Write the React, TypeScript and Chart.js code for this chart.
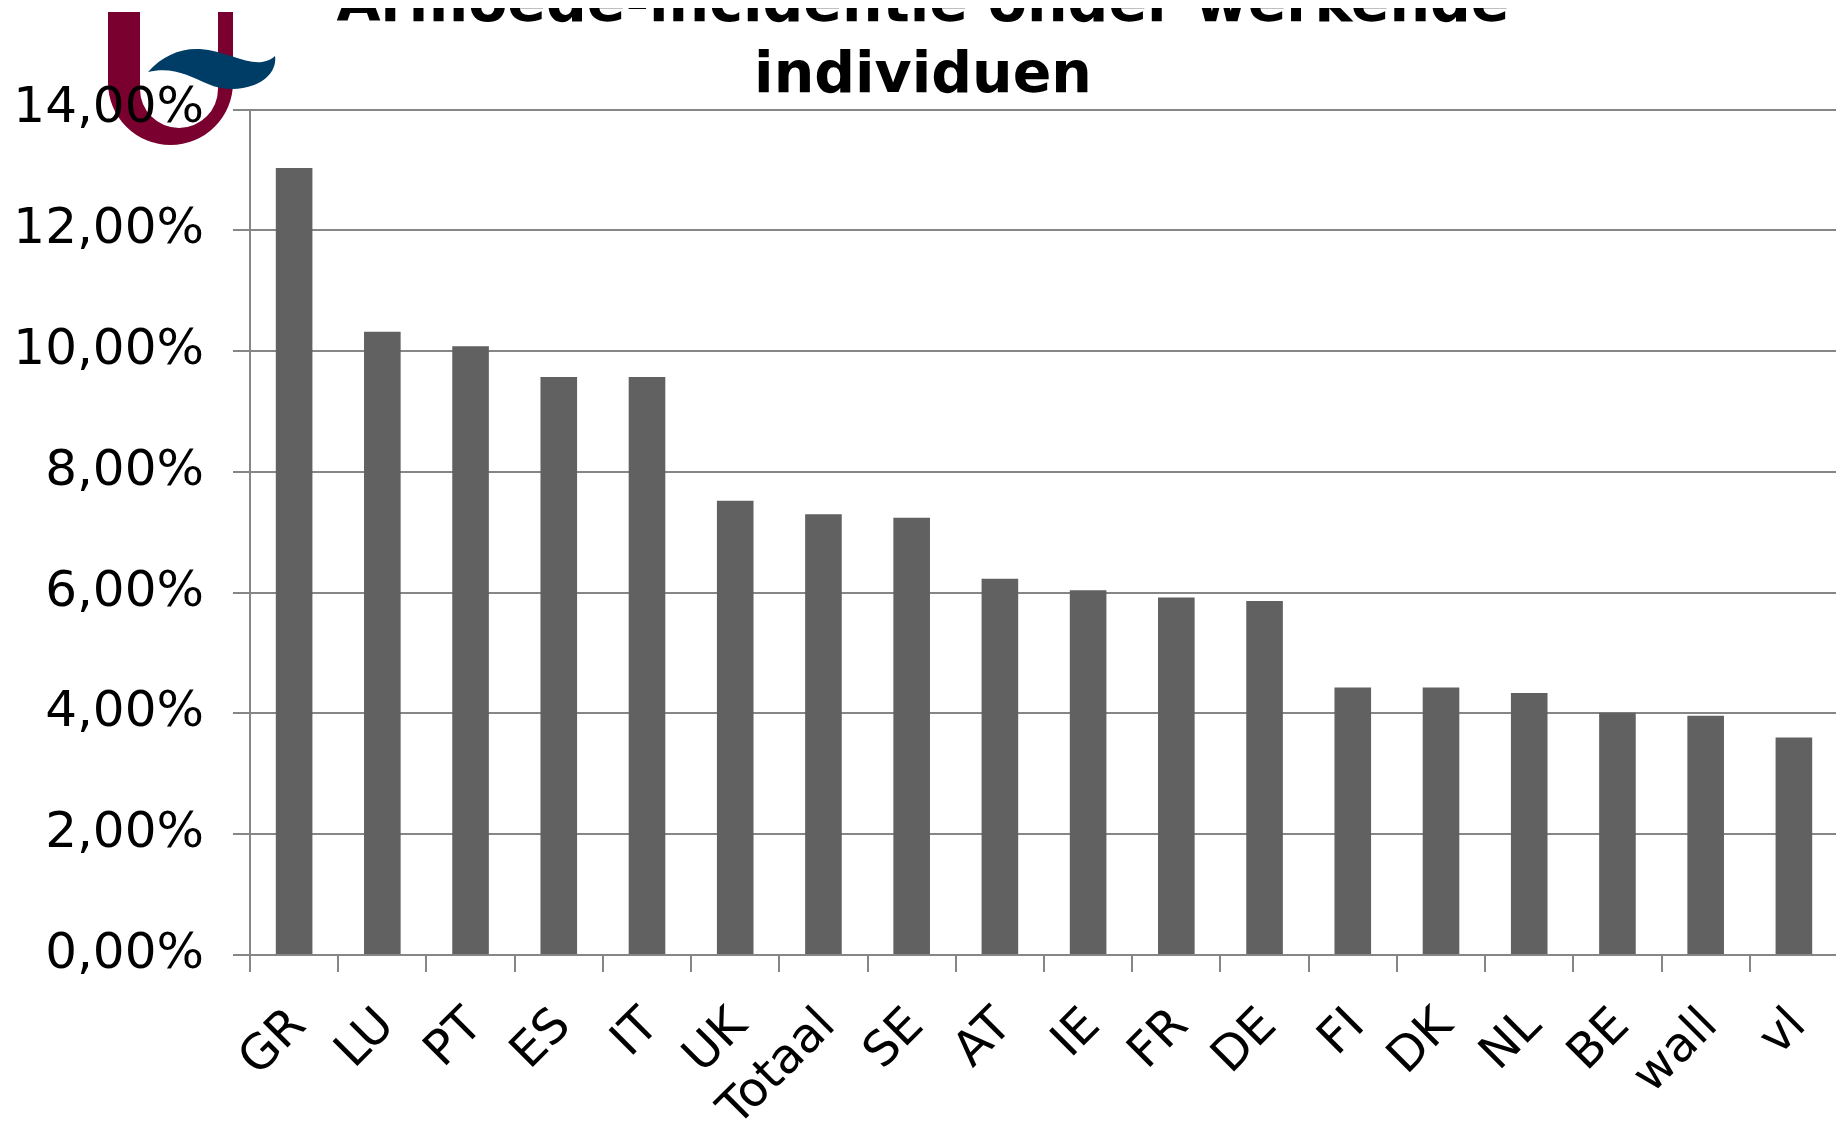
import React, { useEffect, useRef } from "react";
import { Chart, registerables } from "chart.js";

Chart.register(...registerables);

const categories = ["GR", "LU", "PT", "ES", "IT", "UK", "Totaal", "SE", "AT", "IE", "FR", "DE", "FI", "DK", "NL", "BE", "wall", "vl"];
const values = [13.03, 10.32, 10.08, 9.57, 9.57, 7.52, 7.3, 7.24, 6.23, 6.04, 5.92, 5.86, 4.43, 4.43, 4.34, 4.01, 3.96, 3.6];
const yTickValues = [0, 2, 4, 6, 8, 10, 12, 14];
const titleLines = ["Armoede-incidentie onder werkende", "individuen"];

const GRID = "#868686";
const BAR = "#616161";
const FONT = "'DejaVu Sans', Verdana, sans-serif";

// Decorative logo (U with wave), drawn behind everything
const logoPlugin = {
  id: "logo",
  beforeDraw(chart: any) {
    const ctx = chart.ctx;
    ctx.save();
    ctx.translate(-8, -8); // page coords -> canvas coords
    // maroon U
    ctx.fillStyle = "#7a0030";
    ctx.beginPath();
    ctx.moveTo(108, 12);
    ctx.lineTo(108, 82.5);
    ctx.ellipse(170.5, 82.5, 62.5, 62.5, 0, Math.PI, 0, true);
    ctx.lineTo(233, 12);
    ctx.lineTo(218, 12);
    ctx.lineTo(218, 89);
    ctx.ellipse(179, 89, 39, 39, 0, 0, Math.PI, false);
    ctx.lineTo(140, 12);
    ctx.closePath();
    ctx.fill();
    // blue wave
    ctx.fillStyle = "#003d66";
    ctx.beginPath();
    ctx.moveTo(148, 72);
    ctx.bezierCurveTo(162, 56, 180, 48, 200, 49);
    ctx.bezierCurveTo(225, 51, 245, 64, 262, 62);
    ctx.bezierCurveTo(268, 61, 272, 59, 275, 56);
    ctx.bezierCurveTo(277, 68, 268, 80, 254, 85);
    ctx.bezierCurveTo(238, 91, 222, 90, 208, 84);
    ctx.bezierCurveTo(190, 76, 172, 66, 148, 72);
    ctx.closePath();
    ctx.fill();
    ctx.restore();
  },
};

export default function App() {
  const ref = useRef<HTMLCanvasElement | null>(null);

  useEffect(() => {
    if (!ref.current) return;
    const chart = new Chart(ref.current, {
      type: "bar",
      data: {
        labels: categories,
        datasets: [
          {
            data: values,
            backgroundColor: BAR,
            borderWidth: 0,
            barPercentage: 0.415,
            categoryPercentage: 1.0,
          },
        ],
      },
      options: {
        responsive: false,
        animation: false,
        devicePixelRatio: 1,
        layout: { padding: { left: 0, right: 6, top: 0, bottom: 0 } },
        plugins: {
          legend: { display: false },
          tooltip: { enabled: false },
          title: {
            display: true,
            text: titleLines,
            color: "#000",
            font: { family: FONT, weight: "bold", size: 57, lineHeight: "71px" },
            padding: { top: -37.5, bottom: -3 },
          },
        },
        scales: {
          x: {
            grid: {
              display: true,
              drawOnChartArea: false,
              drawTicks: true,
              tickLength: 17,
              offset: true,
              color: GRID,
              lineWidth: 2,
            },
            border: { display: true, color: GRID, width: 2 },
            ticks: {
              autoSkip: false,
              minRotation: 45,
              maxRotation: 45,
              color: "#000",
              padding: 26,
              labelOffset: 5,
              font: { family: FONT, size: 48 },
            },
            afterFit: (s: any) => {
              s.height = 166;
              s.paddingLeft = 0;
              s.paddingRight = 0;
            },
          },
          y: {
            min: 0,
            max: 14,
            afterBuildTicks: (s: any) => {
              s.ticks = yTickValues.map((v) => ({ value: v }));
            },
            grid: {
              display: true,
              drawOnChartArea: true,
              drawTicks: true,
              tickLength: 17,
              color: GRID,
              lineWidth: 2,
            },
            border: { display: true, color: GRID, width: 2 },
            ticks: {
              color: "#000",
              padding: 29,
              font: { family: FONT, size: 50 },
              callback: (v: any) => Number(v).toFixed(2).replace(".", ",") + "%",
            },
            afterFit: (s: any) => {
              s.width = 242;
            },
          },
        },
      },
      plugins: [logoPlugin],
    });
    return () => chart.destroy();
  }, []);

  return <canvas ref={ref} width={1836} height={1113} style={{ display: "block", width: 1836, height: 1113 }} />;
}
